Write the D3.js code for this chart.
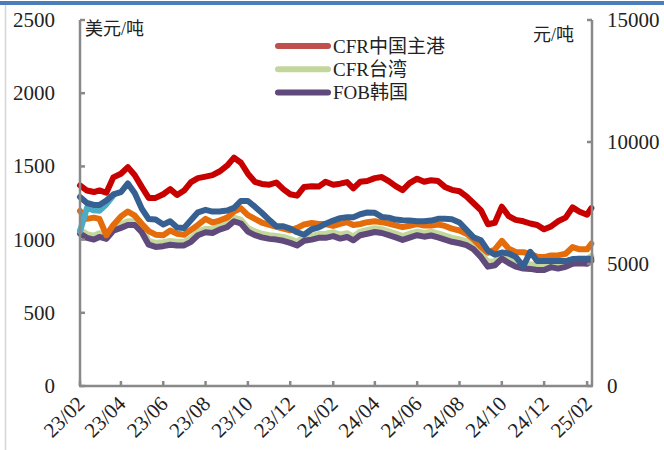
<!DOCTYPE html>
<html><head><meta charset="utf-8">
<script src="https://cdn.jsdelivr.net/npm/d3@7"></script>
<style>body{margin:0;background:#fff} svg{display:block}</style>
</head><body><svg id="c" width="664" height="450"></svg>
<script>
const dates = ["2023-02-01","2023-02-11","2023-02-21","2023-03-01","2023-03-11","2023-03-21","2023-04-01","2023-04-11","2023-04-21",
"2023-05-01","2023-05-11","2023-05-21","2023-06-01","2023-06-11","2023-06-21","2023-07-01","2023-07-11","2023-07-21",
"2023-08-01","2023-08-11","2023-08-21","2023-09-01","2023-09-11","2023-09-21","2023-10-01","2023-10-11","2023-10-21",
"2023-11-01","2023-11-11","2023-11-21","2023-12-01","2023-12-11","2023-12-21","2024-01-01","2024-01-11","2024-01-21",
"2024-02-01","2024-02-11","2024-02-21","2024-03-01","2024-03-11","2024-03-21","2024-04-01","2024-04-11","2024-04-21",
"2024-05-01","2024-05-11","2024-05-21","2024-06-01","2024-06-11","2024-06-21","2024-07-01","2024-07-11","2024-07-21",
"2024-08-01","2024-08-11","2024-08-21","2024-09-01","2024-09-11","2024-09-21","2024-10-01","2024-10-11","2024-10-21",
"2024-11-01","2024-11-11","2024-11-21","2024-12-01","2024-12-11","2024-12-21","2025-01-01","2025-01-11","2025-01-21",
"2025-02-01","2025-02-07"];

// USD/t (left axis)
const cfrChina = [1370,1335,1325,1336,1320,1425,1450,1495,1440,1360,1285,1285,1310,1345,1305,1335,1393,1420,1430,1440,
1465,1505,1560,1525,1450,1395,1380,1375,1390,1345,1310,1300,1360,1365,1362,1395,1375,1382,1393,1350,
1395,1400,1420,1427,1400,1365,1338,1386,1416,1395,1405,1400,1360,1340,1330,1295,1250,1200,1105,1115,
1225,1160,1135,1125,1110,1100,1070,1090,1125,1150,1220,1190,1170,1215];
const cfrTaiwan = [1066,1038,1026,1044,1030,1085,1105,1125,1125,1076,992,978,982,990,986,985,1010,1055,1074,1070,
1093,1110,1150,1136,1080,1056,1040,1030,1025,1018,1003,985,1018,1026,1038,1040,1050,1034,1043,1022,
1055,1066,1078,1071,1056,1041,1024,1040,1055,1046,1054,1042,1027,1012,1002,990,963,908,848,852,
895,868,845,836,832,828,826,842,838,846,866,870,868,888];
const fobKorea = [1041,1012,1000,1018,1005,1060,1080,1100,1100,1050,965,950,955,965,960,960,985,1030,1050,1045,
1068,1085,1125,1110,1055,1030,1015,1005,1000,992,978,960,992,1000,1012,1012,1024,1007,1018,995,
1030,1040,1052,1045,1030,1015,998,1014,1030,1020,1028,1015,1000,985,975,962,935,880,815,825,
870,840,815,802,800,792,792,812,802,814,835,838,835,855];
// CNY/t (right axis)
const cnyOrange = [7170,6850,6900,6850,6180,6600,6950,7150,6980,6650,6350,6200,6180,6370,6240,6200,6400,6600,6850,6700,
6780,6900,7150,7280,7000,6850,6700,6600,6520,6450,6380,6480,6620,6680,6640,6640,6560,6647,6715,6600,
6640,6715,6750,6715,6660,6580,6510,6570,6640,6580,6578,6620,6560,6450,6374,6240,6020,5700,5460,5600,
5950,5625,5490,5480,5420,5300,5285,5353,5353,5420,5693,5600,5600,5829];
const cnyBlue = [7750,7500,7420,7420,7600,7850,7950,8300,7900,7270,6840,6820,6620,6750,6500,6480,6800,7120,7220,7150,
7150,7191,7300,7584,7584,7350,7100,6800,6548,6548,6450,6300,6200,6424,6500,6650,6780,6880,6919,6919,
7040,7110,7096,6930,6900,6820,6790,6783,6756,6756,6780,6851,6851,6830,6700,6400,6100,5970,5550,5380,
5470,5430,5290,4900,5500,5120,5120,5120,5120,5120,5200,5216,5216,5216];
const cnyCyan = [6340,7300,7200,7180,7450,7800,null,null,null,null,null,null,null,null,null,null,null,null,null,null,
null,null,null,null,null,null,null,null,null,null,null,null,null,null,null,null,null,null,null,null,
null,null,null,null,null,null,null,null,null,null,null,null,null,null,null,null,null,null,null,null,
null,null,null,null,null,null,null,null,null,null,null,null,null,null];

const leftTicks = [0,500,1000,1500,2000,2500];
const rightTicks = [0,5000,10000,15000];
const xTickDates = ["2023-02-01","2023-04-01","2023-06-01","2023-08-01","2023-10-01","2023-12-01","2024-02-01",
"2024-04-01","2024-06-01","2024-08-01","2024-10-01","2024-12-01","2025-02-01"];
const xTickLabels = ["23/02","23/04","23/06","23/08","23/10","23/12","24/02","24/04","24/06","24/08","24/10","24/12","25/02"];
const leftUnit = "美元/吨";
const rightUnit = "元/吨";

const series = [
  {name:"CFR台湾", values:cfrTaiwan, axis:"L", color:"#c3d69b", legend:"#c3d69b", inLegend:true},
  {name:"FOB韩国", values:fobKorea, axis:"L", color:"#604a7b", legend:"#604a7b", inLegend:true},
  {name:"orange", values:cnyOrange, axis:"R", color:"#e46c0a", inLegend:false},
  {name:"cyan", values:cnyCyan, axis:"R", color:"#4bacc6", inLegend:false},
  {name:"blue", values:cnyBlue, axis:"R", color:"#376092", inLegend:false},
  {name:"CFR中国主港", values:cfrChina, axis:"L", color:"#c80000", legend:"#c0504d", inLegend:true}
];
const legendOrder = ["CFR中国主港","CFR台湾","FOB韩国"];

const parse = d3.utcParse("%Y-%m-%d");
const svg = d3.select("#c");
const serif = "'Liberation Serif','Times New Roman',serif";
const cjk = "'Liberation Serif','Noto Sans CJK SC',serif";
const axisColor = "#898989";

// frame decorations
svg.append("rect").attr("x",0).attr("y",1).attr("width",664).attr("height",4).attr("fill","#4a7ebb");
svg.append("line").attr("x1",5.5).attr("x2",5.5).attr("y1",5).attr("y2",450).attr("stroke","#d6d6d6").attr("stroke-width",1.5);

const x = d3.scaleUtc().domain([parse("2023-02-01"), parse("2025-02-08")]).range([80, 592]);
const yL = d3.scaleLinear().domain([0,2500]).range([386,20]);
const yR = d3.scaleLinear().domain([0,15000]).range([386,20]);

// lines
const g = svg.append("g");
series.forEach(s => {
  const yy = s.axis === "L" ? yL : yR;
  const pts = dates.map((d,i)=>({d:parse(d), v:s.values[i]}));
  const line = d3.line().defined(p=>p.v!=null).x(p=>x(p.d)).y(p=>yy(p.v)).curve(d3.curveLinear);
  g.append("path").datum(pts).attr("d",line).attr("fill","none")
   .attr("stroke",s.color).attr("stroke-width",6).attr("stroke-linejoin","round").attr("stroke-linecap","round");
});

// axes lines
const ax = svg.append("g").attr("stroke",axisColor).attr("stroke-width",2.5);
ax.append("line").attr("x1",80).attr("x2",80).attr("y1",yL(2500)).attr("y2",386);
ax.append("line").attr("x1",592).attr("x2",592).attr("y1",yR(15000)).attr("y2",386);
ax.append("line").attr("x1",79).attr("x2",593).attr("y1",386).attr("y2",386);
leftTicks.forEach(t=>ax.append("line").attr("x1",80).attr("x2",85).attr("y1",yL(t)).attr("y2",yL(t)));
rightTicks.forEach(t=>ax.append("line").attr("x1",587).attr("x2",592).attr("y1",yR(t)).attr("y2",yR(t)));
xTickDates.forEach(t=>ax.append("line").attr("x1",x(parse(t))).attr("x2",x(parse(t))).attr("y1",381).attr("y2",386));

// tick labels
svg.append("g").selectAll("text").data(leftTicks).join("text")
  .attr("x",55).attr("y",d=>yL(d)).attr("text-anchor","end").attr("dominant-baseline","central")
  .attr("font-family",serif).attr("font-size",21).attr("fill","#222").text(d=>d);
svg.append("g").selectAll("text").data(rightTicks).join("text")
  .attr("x",607).attr("y",d=>yR(d)).attr("text-anchor","start").attr("dominant-baseline","central")
  .attr("font-family",serif).attr("font-size",21).attr("fill","#222").text(d=>d);
svg.append("g").selectAll("text").data(xTickDates).join("text")
  .attr("transform",(d)=>`translate(${x(parse(d))+6},${405}) rotate(-45)`)
  .attr("text-anchor","end").attr("font-family",serif).attr("font-size",21).attr("fill","#222")
  .text((d,i)=>xTickLabels[i]);

// units
svg.append("text").attr("x",85).attr("y",35).attr("font-family",cjk).attr("font-size",18).attr("fill","#222").text(leftUnit);
svg.append("text").attr("x",574).attr("y",41).attr("text-anchor","end").attr("font-family",cjk).attr("font-size",18).attr("fill","#222").text(rightUnit);

// legend
legendOrder.forEach((n,i)=>{
  const s = series.find(z=>z.name===n);
  const ly = 46 + i*23.3;
  svg.append("line").attr("x1",278).attr("x2",328).attr("y1",ly).attr("y2",ly)
    .attr("stroke",s.legend).attr("stroke-width",6).attr("stroke-linecap","round");
  svg.append("text").attr("x",333).attr("y",ly).attr("dominant-baseline","central")
    .attr("font-family",cjk).attr("font-size",19).attr("fill","#222").text(n);
});
</script></body></html>
